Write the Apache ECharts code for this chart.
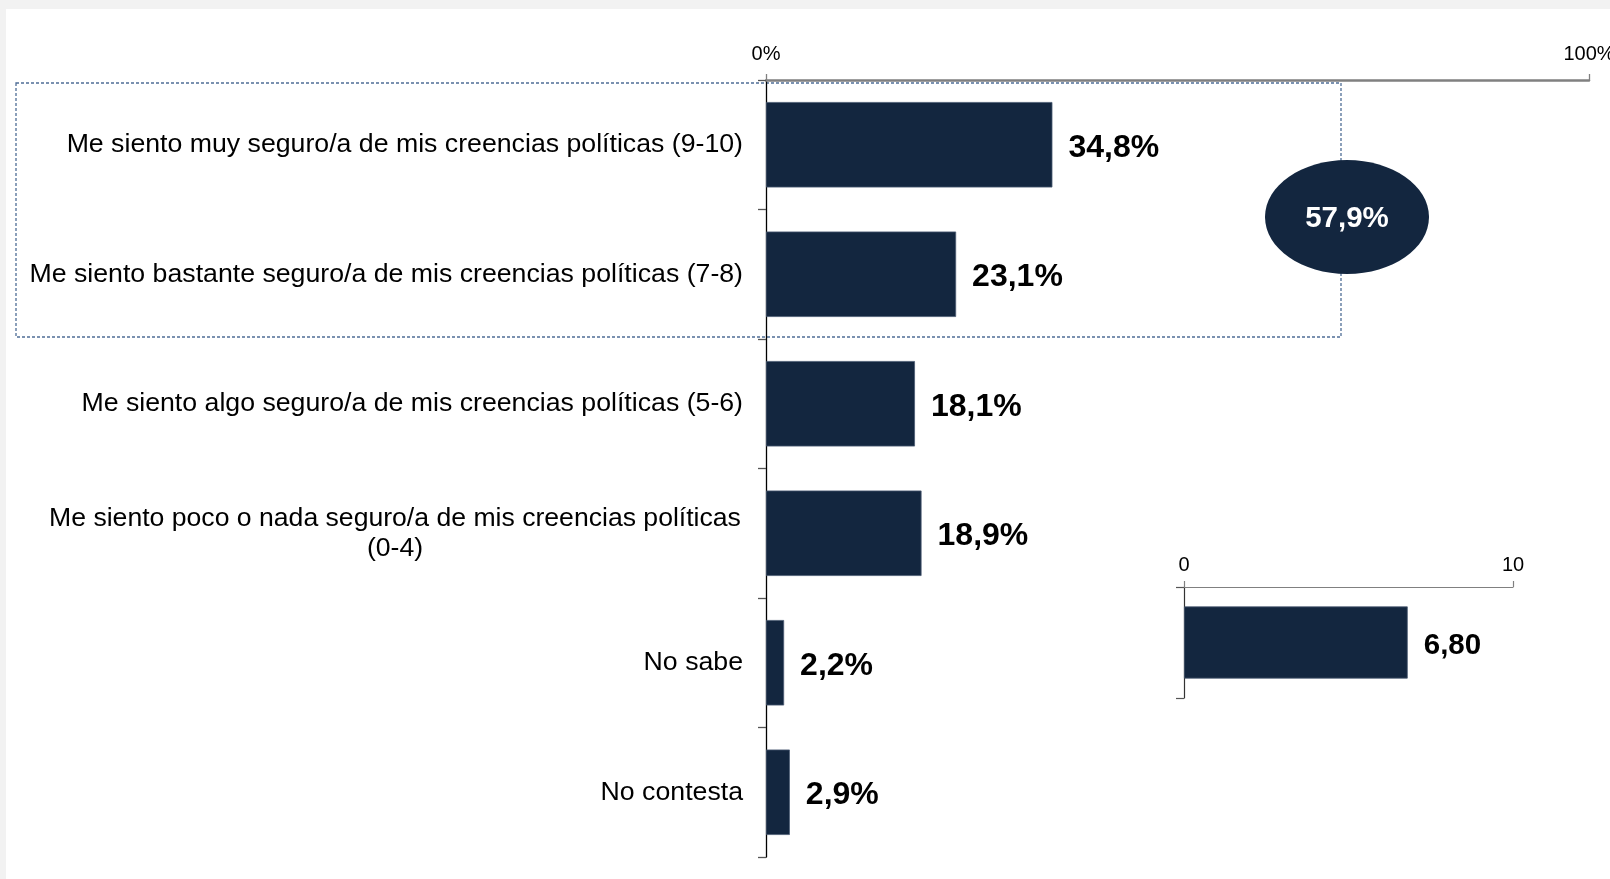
<!DOCTYPE html>
<html>
<head>
<meta charset="utf-8">
<script src="https://cdn.jsdelivr.net/npm/echarts@6/dist/echarts.min.js"></script>
<style>
  html, body { margin: 0; padding: 0; background: #ffffff; }
  #chart { width: 1610px; height: 879px; }
</style>
</head>
<body>
<div id="chart"></div>
<script>
// ---- Data ----
const categories = [
  'Me siento muy seguro/a de mis creencias políticas (9-10)',
  'Me siento bastante seguro/a de mis creencias políticas (7-8)',
  'Me siento algo seguro/a de mis creencias políticas (5-6)',
  'Me siento poco o nada seguro/a de mis creencias políticas\n(0-4)',
  'No sabe',
  'No contesta'
];
const values = [34.8, 23.1, 18.1, 18.9, 2.2, 2.9];
const mainTicks = [0, 100];          // 0% ... 100%
const meanCategory = [''];
const meanValue = [6.80];
const meanTicks = [0, 10];
const groupedIdx = [0, 1];           // categories summed in the highlighted box

const NAVY = '#13263f';
const FONT = '"Liberation Sans", Arial, Helvetica, sans-serif';

const fmtPct = v => v.toFixed(1).replace('.', ',') + '%';

const chart = echarts.init(document.getElementById('chart'), null, { renderer: 'canvas' });

const option = {
  backgroundColor: '#ffffff',
  animation: false,
  textStyle: { fontFamily: FONT },
  grid: [
    { left: 766, right: 21, top: 80, bottom: 22, containLabel: false, outerBoundsMode: 'none' },
    { left: 1184, right: 97, top: 587, height: 111, containLabel: false, outerBoundsMode: 'none' }
  ],
  xAxis: [
    {
      type: 'value', gridIndex: 0, position: 'top',
      min: mainTicks[0], max: mainTicks[1], interval: mainTicks[1] - mainTicks[0],
      axisLine: { show: true, lineStyle: { color: '#808080', width: 2.5 } },
      axisTick: { show: true, length: 6, lineStyle: { color: '#808080', width: 1.3 } },
      axisLabel: { formatter: '{value}%', fontSize: 20, color: '#000', margin: 16, fontFamily: FONT },
      splitLine: { show: false }
    },
    {
      type: 'value', gridIndex: 1, position: 'top',
      min: meanTicks[0], max: meanTicks[1], interval: meanTicks[1] - meanTicks[0],
      axisLine: { show: true, lineStyle: { color: '#808080', width: 1.2 } },
      axisTick: { show: true, length: 6, lineStyle: { color: '#808080', width: 1.2 } },
      axisLabel: { fontSize: 20, color: '#000', margin: 12, fontFamily: FONT },
      splitLine: { show: false }
    }
  ],
  yAxis: [
    {
      type: 'category', gridIndex: 0, inverse: true, data: categories,
      axisLine: { show: true, lineStyle: { color: '#000', width: 1.3 } },
      axisTick: { show: true, length: 8, lineStyle: { color: '#555', width: 1.3 } },
      axisLabel: {
        interval: 0, fontSize: 26.7, color: '#000', margin: 23, fontFamily: FONT,
        lineHeight: 30,
        formatter: function (v) {
          if (v.indexOf('\n') >= 0) {
            return v.split('\n').map(s => '{c|' + s + '}').join('\n');
          }
          return v;
        },
        rich: {
          c: { width: 696, align: 'center', fontSize: 26.6, lineHeight: 30, color: '#000', fontFamily: FONT }
        }
      }
    },
    {
      type: 'category', gridIndex: 1, inverse: true, data: meanCategory,
      axisLine: { show: true, lineStyle: { color: '#333', width: 1.2 } },
      axisTick: { show: true, length: 8, lineStyle: { color: '#555', width: 1.2 } },
      axisLabel: { show: false }
    }
  ],
  series: [
    {
      type: 'bar', xAxisIndex: 0, yAxisIndex: 0, data: values,
      barCategoryGap: '34%',
      itemStyle: { color: NAVY, borderColor: '#4a5a72', borderWidth: 0.8 },
      label: {
        show: true, position: 'right', distance: 16, offset: [0, 3],
        fontSize: 32, fontWeight: 'bold', color: '#000', fontFamily: FONT,
        formatter: p => fmtPct(p.value)
      }
    },
    {
      type: 'bar', xAxisIndex: 1, yAxisIndex: 1, data: meanValue,
      barCategoryGap: '35%',
      itemStyle: { color: NAVY, borderColor: '#4a5a72', borderWidth: 0.8 },
      label: {
        show: true, position: 'right', distance: 16, offset: [0, 3],
        fontSize: 29.5, fontWeight: 'bold', color: '#000', fontFamily: FONT,
        formatter: p => p.value.toFixed(2).replace('.', ',')
      }
    }
  ]
};

chart.setOption(option);

// ---- Annotations: page frame, dashed group box, ellipse with grouped sum ----
const sum = groupedIdx.reduce((a, i) => a + values[i], 0);
const yTop = chart.convertToPixel({ yAxisIndex: 0 }, 0);     // center of first category
const yNext = chart.convertToPixel({ yAxisIndex: 0 }, 1);
const band = yNext - yTop;
const boxTop = yTop - band / 2 + 3;
const boxBottom = chart.convertToPixel({ yAxisIndex: 0 }, groupedIdx[groupedIdx.length - 1]) + band / 2 - 2;
const boxRight = 1341;
const ellCx = 1347, ellCy = (boxTop + boxBottom) / 2 + 7;

chart.setOption({
  graphic: [
    { type: 'rect', z: -10, silent: true, shape: { x: 0, y: 0, width: 1610, height: 9 }, style: { fill: '#f2f2f2' } },
    { type: 'rect', z: -10, silent: true, shape: { x: 0, y: 0, width: 6, height: 879 }, style: { fill: '#f2f2f2' } },
    {
      type: 'rect', z: -5, silent: true,
      shape: { x: 16, y: boxTop, width: boxRight - 16, height: boxBottom - boxTop },
      style: { fill: 'none', stroke: '#4f6d96', lineWidth: 1.3, lineDash: [3, 2] }
    },
    {
      type: 'ellipse', z: 10, silent: true,
      shape: { cx: ellCx, cy: ellCy, rx: 82, ry: 57 },
      style: { fill: NAVY }
    },
    {
      type: 'text', z: 11, silent: true,
      x: ellCx, y: ellCy + 2,
      style: {
        text: fmtPct(sum), fill: '#ffffff', font: 'bold 29.5px ' + FONT,
        align: 'center', verticalAlign: 'middle'
      }
    }
  ]
});
</script>
</body>
</html>
